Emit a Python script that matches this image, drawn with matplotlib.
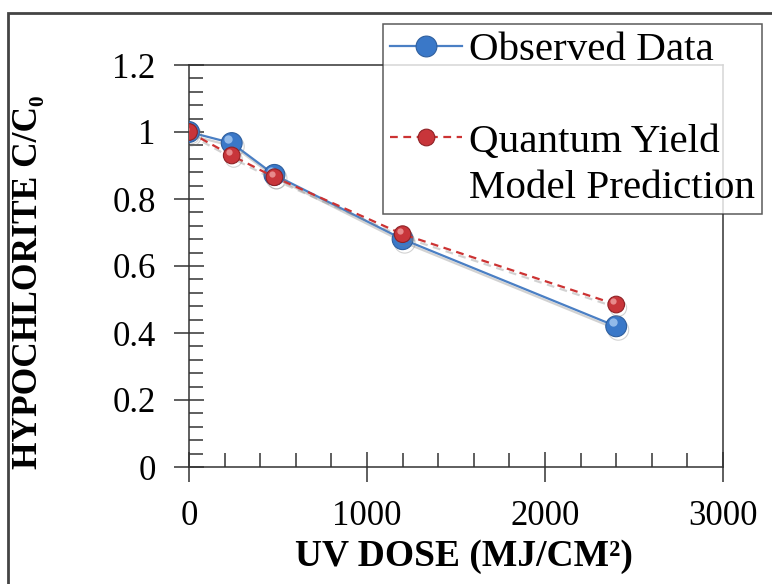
import numpy as np
import matplotlib
matplotlib.use("Agg")
import matplotlib.pyplot as plt
import matplotlib.patheffects as pe
from matplotlib.lines import Line2D
from matplotlib.transforms import offset_copy
from matplotlib.ticker import MultipleLocator

# data
dose = [0, 240, 480, 1200, 2400]
observed = [1.0, 0.967, 0.872, 0.68, 0.42]
model_pred = [1.0, 0.93, 0.865, 0.695, 0.485]

obs_label = "Observed Data"
model_label = ["Quantum Yield", "Model Prediction"]
x_label = "UV DOSE (MJ/CM²)"
y_label = "HYPOCHLORITE C/C₀"

plt.rcParams["font.family"] = ["Liberation Serif", "DejaVu Serif"]

fig = plt.figure(figsize=(7.72, 5.84), dpi=100)
ax = fig.add_axes([189/772, 1-467/584, (723-189)/772, (467-65)/584])

shadow = [pe.SimpleLineShadow(offset=(1.5, -2.5), shadow_color="gray", alpha=0.35), pe.Normal()]

l1, = ax.plot(dose, observed, color="#4a7fc4", lw=1.6, marker="o", ms=15,
              mfc="#3a78c8", mec="#2f5f9e", mew=0.8,
              path_effects=shadow, zorder=3)
l2, = ax.plot(dose, model_pred, color="#cc3333", lw=1.6, ls=(0, (3.5, 2.5)), marker="o", ms=12,
              mfc="#c8353a", mec="#8f2226", mew=0.8,
              path_effects=shadow, zorder=4)

# small highlights for the shaded spheres
hl1 = offset_copy(ax.transData, fig=fig, x=-2.5, y=3, units="points")
ax.plot(dose, observed, ls="none", marker="o", ms=6, mfc="#a9cbf2", mec="none",
        alpha=0.8, transform=hl1, zorder=3.5)
hl2 = offset_copy(ax.transData, fig=fig, x=-2, y=2.5, units="points")
ax.plot(dose, model_pred, ls="none", marker="o", ms=4.5, mfc="#f0a0a0", mec="none",
        alpha=0.8, transform=hl2, zorder=4.5)

ax.set_xlim(0, 3000)
ax.set_ylim(0, 1.2)
ax.xaxis.set_major_locator(MultipleLocator(1000))
ax.xaxis.set_minor_locator(MultipleLocator(200))
ax.yaxis.set_minor_locator(MultipleLocator(0.04))
ax.set_yticks([0, 0.2, 0.4, 0.6, 0.8, 1.0, 1.2])
ax.set_yticklabels(["0", "0.2", "0.4", "0.6", "0.8", "1", "1.2"])

ax.tick_params(which="major", direction="inout", length=22, width=1.1, color="#333333",
               labelsize=25, pad=13)
ax.tick_params(which="minor", direction="in", length=10, width=1.1, color="#333333")
ax.tick_params(axis="y", which="both", right=False)
ax.tick_params(axis="x", which="both", top=False)
for s in ax.spines.values():
    s.set_color("#333333")
    s.set_linewidth(1.1)

ax.set_xlabel(x_label, fontsize=27, fontweight="bold", va="center")
ax.set_ylabel(y_label, fontsize=25.5, fontweight="bold", va="center")
ax.xaxis.set_label_coords(0.515, -0.222)
ax.yaxis.set_label_coords(-0.30, 0.46)

# legend: blank row between entries, handle aligned with first line of 2nd label
blank = Line2D([], [], color="none")
h1 = Line2D([], [], color="#4a7fc4", lw=1.6, marker="o", ms=15, mfc="#3a78c8", mec="#2f5f9e", mew=0.8)
h2 = Line2D([], [], color="#cc3333", lw=1.6, ls=(0, (3.5, 2.5)), marker="o", ms=12,
            mfc="#c8353a", mec="#8f2226", mew=0.8)
leg = ax.legend(handles=[h1, blank, h2, blank], labels=[obs_label, " ", model_label[0], model_label[1]],
                loc="upper left", bbox_to_anchor=(383/772, 1-24/584), bbox_transform=fig.transFigure,
                fontsize=29.5, frameon=True, fancybox=False, edgecolor="#333333",
                handlelength=1.75, handletextpad=0.17, labelspacing=0.2,
                borderpad=0.18, borderaxespad=0)
leg.get_frame().set_linewidth(1.1)

# outer frame around the figure
fig.patches.append(plt.Rectangle((8/772, -0.05), 1.1, 1-13/584+0.05,
                                 transform=fig.transFigure, fill=False,
                                 edgecolor="#444444", lw=2))

fig.savefig("out.png", dpi=100)
